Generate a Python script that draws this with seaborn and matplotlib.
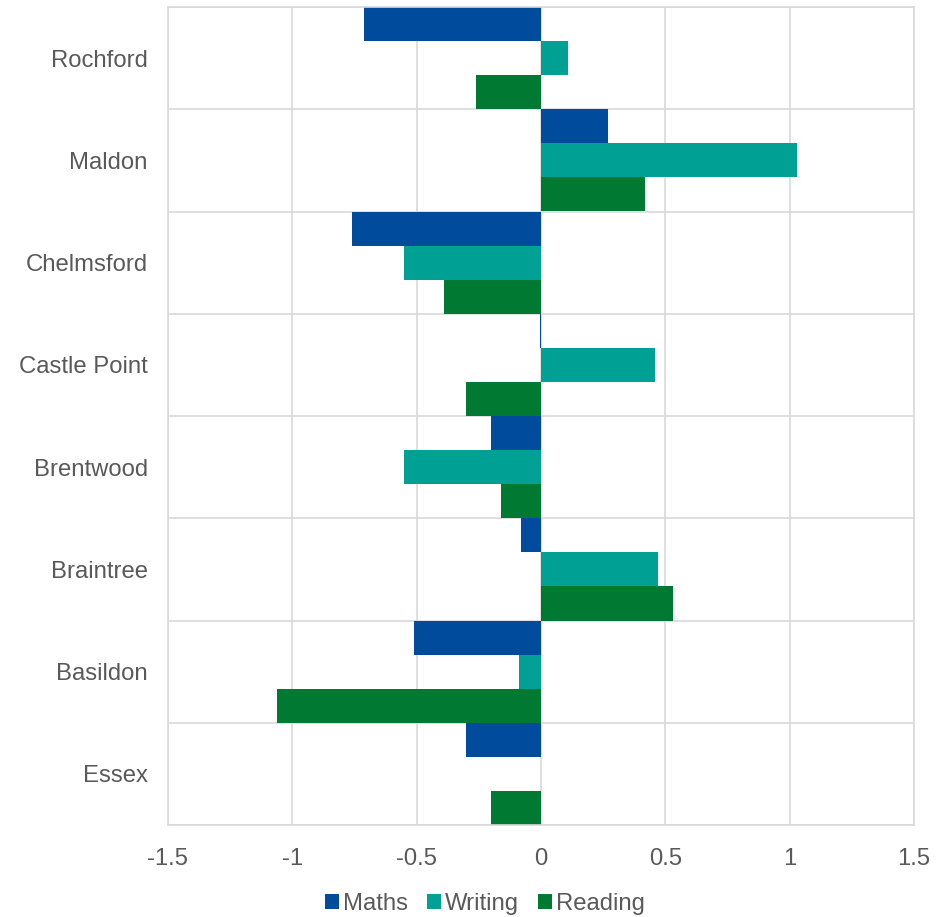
import numpy as np
import pandas as pd
import matplotlib
matplotlib.use("Agg")
import matplotlib.pyplot as plt
import seaborn as sns
from matplotlib.patches import Patch

districts = ["Rochford", "Maldon", "Chelmsford", "Castle Point",
             "Brentwood", "Braintree", "Basildon", "Essex"]
subjects = ["Maths", "Writing", "Reading"]
maths = [-0.71, 0.27, -0.76, -0.005, -0.20, -0.08, -0.51, -0.30]
writing = [0.11, 1.03, -0.55, 0.46, -0.55, 0.47, -0.09, np.nan]
reading = [-0.26, 0.42, -0.39, -0.30, -0.16, 0.53, -1.06, -0.20]
colors = ["#004B9B", "#00A194", "#007A33"]
x_ticks = [-1.5, -1, -0.5, 0, 0.5, 1, 1.5]
x_tick_labels = ["-1.5", "-1", "-0.5", "0", "0.5", "1", "1.5"]

df = pd.DataFrame({
    "District": districts * 3,
    "Subject": [s for s in subjects for _ in districts],
    "Score": maths + writing + reading,
})

sns.set_theme(style="white")
plt.rcParams["font.family"] = ["Liberation Sans", "DejaVu Sans"]

fig = plt.figure(figsize=(9.45, 9.17), dpi=100)
ax = fig.add_axes([168 / 945, 1 - 825 / 917, (914 - 168) / 945, (825 - 7) / 917])

sns.barplot(data=df, y="District", x="Score", hue="Subject",
            order=districts, hue_order=subjects, palette=colors,
            saturation=1, orient="h", width=1.0, gap=0, linewidth=0,
            errorbar=None, legend=False, ax=ax)

ax.set_xlim(-1.5, 1.5)
ax.set_ylim(len(districts) - 0.5, -0.5)
ax.set_xticks(x_ticks)
ax.set_xticklabels(x_tick_labels)
ax.set_yticks(range(len(districts)))
ax.set_yticklabels(districts)
ax.set_yticks(np.arange(-0.5, len(districts) + 0.5, 1), minor=True)
ax.set_xlabel("")
ax.set_ylabel("")

grid_color = "#D9D9D9"
ax.grid(True, axis="x", which="major", color=grid_color, linewidth=1.2)
ax.grid(True, axis="y", which="minor", color=grid_color, linewidth=1.2)
ax.grid(False, axis="y", which="major")
ax.set_axisbelow(True)
for sp in ax.spines.values():
    sp.set_color(grid_color)
    sp.set_linewidth(1.2)

text_color = "#595959"
fs = 17.2
ax.tick_params(axis="both", which="both", length=0, labelsize=fs,
               labelcolor=text_color)
ax.tick_params(axis="y", pad=14.5)
ax.tick_params(axis="x", pad=16.5)

handles = [Patch(facecolor=c, edgecolor="none") for c in colors]
fig.legend(handles, subjects, loc="lower center", bbox_to_anchor=(0.513, -0.021),
           ncol=3, frameon=False, fontsize=fs, labelcolor=text_color,
           handlelength=0.6, handleheight=0.6, handletextpad=0.15,
           columnspacing=0.8)

fig.savefig("out.png", dpi=100)
